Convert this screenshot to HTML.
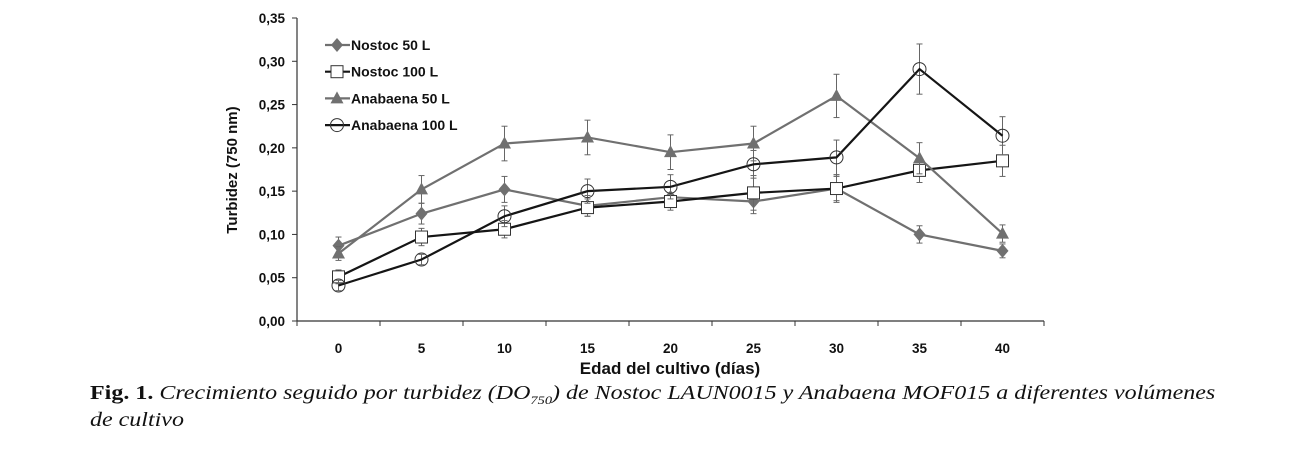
<!DOCTYPE html>
<html><head><meta charset="utf-8"><style>
body{margin:0;background:#fff;width:1294px;height:454px;overflow:hidden;position:relative;font-family:"Liberation Sans",sans-serif}
.cap{position:absolute;left:90px;font-family:"Liberation Serif",serif;font-size:20px;color:#111;white-space:nowrap;transform-origin:0 0}
</style></head><body>
<svg id="chart" width="1294" height="380" style="position:absolute;left:0;top:0" font-family="Liberation Sans, sans-serif"></svg>
<div class="cap" style="top:382px;transform:scaleX(1.2)"><b>Fig. 1.</b> <i>Crecimiento seguido por turbidez (DO<sub style="font-size:12px">750</sub>) de Nostoc LAUN0015 y Anabaena MOF015 a diferentes volúmenes</i></div>
<div class="cap" style="top:409px;transform:scaleX(1.2)"><i>de cultivo</i></div>
<script>
const categories=[0,5,10,15,20,25,30,35,40];
const yTicks=["0,00","0,05","0,10","0,15","0,20","0,25","0,30","0,35"];
const nostoc50=[0.087,0.124,0.152,0.133,0.143,0.138,0.153,0.100,0.081];
const nostoc50Err=[0.010,0.012,0.015,0.012,0.012,0.014,0.014,0.010,0.008];
const nostoc100=[0.051,0.097,0.106,0.131,0.138,0.148,0.153,0.174,0.185];
const nostoc100Err=[0.008,0.010,0.010,0.010,0.010,0.020,0.016,0.014,0.018];
const anab50=[0.078,0.152,0.205,0.212,0.195,0.205,0.260,0.188,0.101];
const anab50Err=[0.008,0.016,0.020,0.020,0.020,0.020,0.025,0.018,0.010];
const anab100=[0.041,0.071,0.121,0.150,0.155,0.181,0.189,0.291,0.214];
const anab100Err=[0.006,0.006,0.012,0.014,0.014,0.016,0.020,0.029,0.022];
const NS="http://www.w3.org/2000/svg";
const svg=document.getElementById('chart');
const x0=297,band=83,yZero=321,yTop=18,yMax=0.35;
const xs=i=>x0+band/2+band*i;
const ys=v=>yZero-(v/yMax)*(yZero-yTop);
function mk(t,a,p){const e=document.createElementNS(NS,t);for(const k in a)e.setAttribute(k,a[k]);(p||svg).appendChild(e);return e;}
let e=mk('line',{x1:x0,y1:yTop,x2:x0,y2:yZero,stroke:'#333','stroke-width':1.2});


e=mk('line',{x1:x0,y1:yZero,x2:x0+band*9,y2:yZero,stroke:'#333','stroke-width':1.2});


yTicks.forEach((t,i)=>{const y=ys(i*0.05);
 mk('line',{x1:x0-5,y1:y,x2:x0,y2:y,stroke:'#333'});
 const tx=mk('text',{x:x0-12,y:y+5,'text-anchor':'end','font-size':13.5,'font-weight':'bold',fill:'#111'});tx.textContent=t;
 
 });
for(let i=0;i<=9;i++){mk('line',{x1:x0+band*i,y1:yZero,x2:x0+band*i,y2:yZero+5,stroke:'#333'});}
categories.forEach((c,i)=>{const tx=mk('text',{x:xs(i),y:353,'text-anchor':'middle','font-size':13.5,'font-weight':'bold',fill:'#111'});tx.textContent=c;
 
 });
e=mk('text',{x:670,y:374,'text-anchor':'middle','font-size':17,'font-weight':'bold',fill:'#111'});e.textContent='Edad del cultivo (días)';


e=mk('text',{x:0,y:0,'text-anchor':'middle','font-size':15,'font-weight':'bold',fill:'#111',transform:'translate(237,170) rotate(-90)'});e.textContent='Turbidez (750 nm)';


function marker(g,type,x,y,col){
 if(type==='diamond')mk('polygon',{points:`${x},${y-7} ${x+6},${y} ${x},${y+7} ${x-6},${y}`,fill:col},g);
 if(type==='square')mk('rect',{x:x-6,y:y-6,width:12,height:12,fill:'#fff',stroke:'#333','stroke-width':1},g);
 if(type==='triangle')mk('polygon',{points:`${x},${y-7} ${x+6.5},${y+5} ${x-6.5},${y+5}`,fill:col},g);
 if(type==='circle')mk('circle',{cx:x,cy:y,r:6.5,fill:'none',stroke:'#333','stroke-width':1},g);}
const series=[
 {name:'Nostoc 50 L',v:nostoc50,err:nostoc50Err,col:'#707070',m:'diamond',id:'nostoc-50'},
 {name:'Nostoc 100 L',v:nostoc100,err:nostoc100Err,col:'#151515',m:'square',id:'nostoc-100'},
 {name:'Anabaena 50 L',v:anab50,err:anab50Err,col:'#707070',m:'triangle',id:'anabaena-50'},
 {name:'Anabaena 100 L',v:anab100,err:anab100Err,col:'#151515',m:'circle',id:'anabaena-100'}];
series.forEach((s,k)=>{
 const g=mk('g',{});
 
 
 s.v.forEach((v,i)=>{const x=xs(i);
  mk('line',{x1:x,y1:ys(v+s.err[i]),x2:x,y2:ys(v-s.err[i]),stroke:'#666','stroke-width':1},g);
  mk('line',{x1:x-3,y1:ys(v+s.err[i]),x2:x+3,y2:ys(v+s.err[i]),stroke:'#666'},g);
  mk('line',{x1:x-3,y1:ys(v-s.err[i]),x2:x+3,y2:ys(v-s.err[i]),stroke:'#666'},g);});
 mk('polyline',{points:s.v.map((v,i)=>xs(i)+','+ys(v)).join(' '),fill:'none',stroke:s.col,'stroke-width':2.2},g);
 s.v.forEach((v,i)=>marker(g,s.m,xs(i),ys(v),s.col));
 const ly=45+k*26.7;
 const lg=mk('g',{});
 
 
 mk('line',{x1:325,y1:ly,x2:350,y2:ly,stroke:s.col,'stroke-width':2.2},lg);
 marker(lg,s.m,337,ly,s.col);
 const t=mk('text',{x:351,y:ly+5,'font-size':14,'font-weight':'bold',fill:'#111'},lg);t.textContent=s.name;
});
</script>
</body></html>
